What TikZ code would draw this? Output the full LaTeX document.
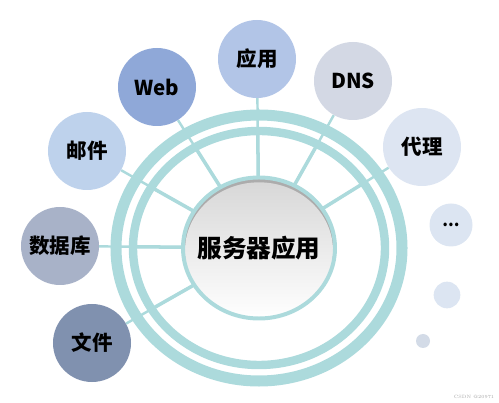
\documentclass[tikz,border=0pt]{standalone}
\usepackage{fontspec}
\usetikzlibrary{shapes.geometric,backgrounds}
\newfontfamily\cjk{Noto Sans CJK SC}
\definecolor{ringteal}{RGB}{172,218,220}
\definecolor{webblue}{RGB}{143,168,216}
\definecolor{appblue}{RGB}{178,197,231}
\definecolor{dnsgray}{RGB}{211,216,228}
\definecolor{proxyblue}{RGB}{221,229,242}
\definecolor{mailblue}{RGB}{190,210,236}
\definecolor{dbgray}{RGB}{168,178,200}
\definecolor{fileslate}{RGB}{128,145,175}
\definecolor{dotblue}{RGB}{220,229,242}
\tikzset{
  sat/.style={circle, minimum size=2.34cm, inner sep=0pt,
    font=\cjk\bfseries\fontsize{17.5}{20}\selectfont},
  bubble/.style={circle, inner sep=0pt, fill=dotblue},
  spoke/.style={draw=ringteal, line width=2.1pt},
  ring/.style={draw=ringteal},
  hub/.style={ellipse, minimum width=4.56cm, minimum height=4.23cm, inner sep=0pt,
    draw=ringteal, line width=3.4pt, fill=gray!65,
    path picture={\shade[top color=gray!32, bottom color=white]
      ([yshift=-0.08cm]path picture bounding box.center)
      ellipse [x radius=2.22cm, y radius=2.05cm];},
    font=\cjk\bfseries\fontsize{21}{24}\selectfont},
}
\begin{document}
\begin{tikzpicture}[x=0.03cm, y=-0.03cm]
  \useasboundingbox (0,0) rectangle (499,403);
  % centre
  \node[hub] (hub) at (259,248) {\makebox[0pt]{服务器应用}};
  % satellites
  \node[sat, fill=webblue] (web) at (157,87) {Web};
  \node[sat, fill=appblue] (app) at (257,59) {应用};
  \node[sat, fill=dnsgray] (dns) at (353,81) {DNS};
  \node[sat, fill=proxyblue] (proxy) at (422,147) {代理};
  \node[sat, fill=mailblue] (mail) at (87,151) {邮件};
  \node[sat, fill=dbgray] (db) at (60,246) {数据库};
  \node[sat, fill=fileslate] (file) at (92,343) {文件};
  % bubbles
  \node[bubble, minimum size=1.29cm, font=\cjk\bfseries\fontsize{14}{16}\selectfont] (more) at (451,225) {...};
  \node[bubble, minimum size=0.8cm] (small) at (447,295) {};
  \node[bubble, minimum size=0.42cm, fill=dotblue!90!gray] (tiny) at (423,341) {};
  \node[text=gray!70, font=\fontsize{4}{5}\selectfont] (mark) at (474,397) {CSDN @20971};
  \begin{scope}[on background layer]
    \foreach \s in {web,app,dns,proxy,mail,db,file}
      \draw[spoke] (hub.center) -- (\s);
    \begin{scope}
      \clip (hub.center) ellipse [x radius=126, y radius=117];
      \foreach \s in {web,app,dns,proxy,mail,db,file}
        \draw[spoke, line width=3pt] (hub.center) -- (\s);
    \end{scope}
    \draw[ring, line width=9.4pt] (hub.center) ellipse [x radius=143, y radius=133];
    \draw[ring, line width=7.2pt] (hub.center) ellipse [x radius=126, y radius=117];
  \end{scope}
\end{tikzpicture}
\end{document}
